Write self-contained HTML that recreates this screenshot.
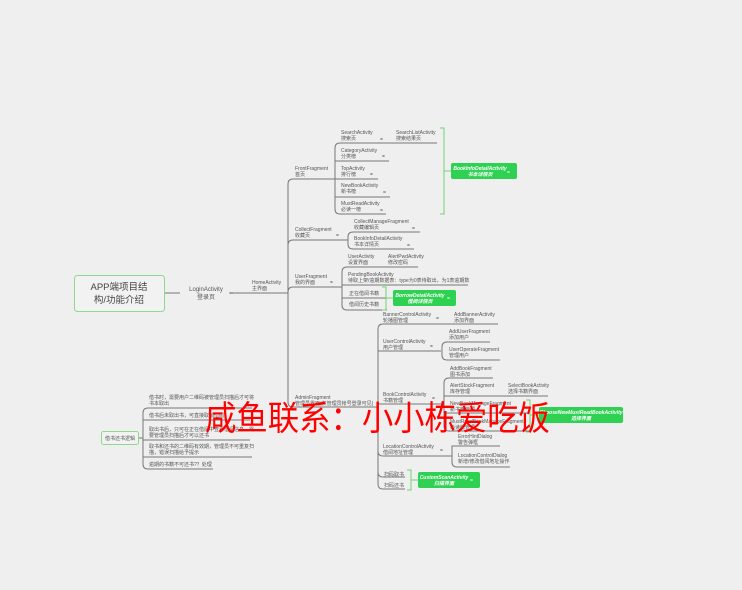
<!DOCTYPE html>
<html><head><meta charset="utf-8"><style>
html,body{margin:0;padding:0;background:#efefef;}
svg{display:block;}
text{font-family:"Liberation Sans","Noto Sans CJK SC",sans-serif;fill:#555;font-size:5px;}
.g{fill:#fff;font-weight:bold;font-style:italic;font-size:5px;}
</style></head><body>
<svg width="742" height="590" viewBox="0 0 742 590" xmlns="http://www.w3.org/2000/svg">
<rect width="742" height="590" fill="#efefef"/>
<g stroke="#777" stroke-width="1" fill="none">
<!-- root to login to home -->
<path d="M164 293 H180 M232 293 H240 M240 293 H288"/>
<!-- main spine -->
<path d="M288 293 V184 Q288 179 293 179 H335 M288 293 V245 Q288 240 293 240 H348 M288 293 V292 Q288 287 293 287 H342 M288 293 V402 Q288 407 293 407 H378"/>
<!-- front sub -->
<path d="M335 179 V148 Q335 143 340 143 H437 M335 179 V161 H389 M335 179 H378 M335 179 V197 H390 M335 179 V209 Q335 214 340 214 H386"/>
<!-- collect sub -->
<path d="M348 240 V237 Q348 232 353 232 H420 M348 240 V244 Q348 249 353 249 H414"/>
<!-- user sub -->
<path d="M342 287 V272 Q342 267 347 267 H418 M342 287 V285 H468 M342 287 V298 H387 M342 287 V305 Q342 310 347 310 H387"/>
<!-- admin sub -->
<path d="M378 407 V329 Q378 324 383 324 H498 M378 407 V351 H441 M378 407 V404 H444 M378 407 V451 Q378 456 383 456 H452 M378 407 V472 Q378 477 383 477 H405 M378 407 V484 Q378 489 383 489 H405"/>
<path d="M442 351 V347 Q442 342 447 342 H490 M442 351 V355 Q442 360 447 360 H500"/>
<path d="M444 404 V383 Q444 378 449 378 H493 M444 404 V396 H548 M444 404 V413 H530 M444 404 V426 Q444 431 449 431 H530"/>
<path d="M452 456 V446 H500 M452 456 V462 Q452 467 457 467 H510"/>
<!-- left -->
<path d="M138 438 H143 M143 438 V413 Q143 408 148 408 H252 M143 420 H250 M143 440 H250 M143 457 H252 M143 438 V464 Q143 469 148 469 H213"/>
</g>
<!-- green brackets -->
<g stroke="#6fd66f" stroke-width="1" fill="none">
<path d="M440 128 H444 V214 H440 M444 171 H451"/>
<path d="M382 287 H386 V310 H382 M386 298 H393"/>
<path d="M526 400 H530 V432 H526 M530 415 H539"/>
<path d="M407 470 H411 V490 H407 M411 480 H418"/>
</g>
<!-- root box -->
<rect x="74.5" y="275.5" width="90" height="36" rx="3" fill="#f2f2f2" stroke="#8ed98e"/>
<text x="119" y="290" text-anchor="middle" style="font-size:9.5px;fill:#444">APP端项目结</text>
<text x="119" y="303" text-anchor="middle" style="font-size:9.5px;fill:#444">构/功能介绍</text>
<text x="206" y="291" text-anchor="middle" style="font-size:6px">LoginActivity</text>
<text x="206" y="299" text-anchor="middle" style="font-size:6px">登录页</text>
<text x="229" y="295" style="font-size:6px">=</text>
<text x="252" y="284">HomeActivity</text><text x="252" y="290">主界面</text>
<!-- front -->
<text x="295" y="170">FrontFragment</text><text x="295" y="176">首页</text>
<text x="341" y="134">SearchActivity</text><text x="341" y="140">搜索页</text><text x="380" y="141">=</text>
<text x="396" y="134">SearchListActivity</text><text x="396" y="140">搜索结果页</text>
<text x="341" y="152">CategoryActivity</text><text x="341" y="158">分类榜</text><text x="382" y="158">=</text>
<text x="341" y="170">TopActivity</text><text x="341" y="176">排行榜</text><text x="370" y="176">=</text>
<text x="341" y="187">NewBookActivity</text><text x="341" y="193">新书榜</text><text x="383" y="194">=</text>
<text x="341" y="205">MustReadActivity</text><text x="341" y="211">必读一榜</text><text x="380" y="212">=</text>
<rect x="451" y="163" width="66" height="16" rx="2" fill="#2fd152"/>
<text class="g" x="480" y="170" text-anchor="middle">BookInfoDetailActivity</text>
<text class="g" x="480" y="176" text-anchor="middle">书本详情页</text>
<text x="507" y="174" style="fill:#fff">=</text>
<!-- collect -->
<text x="295" y="231">CollectFragment</text><text x="295" y="237">收藏页</text><text x="336" y="237">=</text>
<text x="354" y="223">CollectManageFragment</text><text x="354" y="229">收藏编辑页</text><text x="412" y="230">=</text>
<text x="354" y="240">BookInfoDetailActivity</text><text x="354" y="246">书本详情页</text><text x="407" y="247">=</text>
<!-- user -->
<text x="295" y="278">UserFragment</text><text x="295" y="284">我的界面</text><text x="330" y="284">=</text>
<text x="348" y="258">UserActivity</text><text x="348" y="264">设置界面</text>
<text x="388" y="258">AlertPwdActivity</text><text x="388" y="264">修改密码</text>
<text x="348" y="276">PendingBookActivity</text><text x="348" y="282">待取上架/逾期数据表：type为0表待取出，为1表逾期数</text>
<text x="349" y="295">正在借阅书籍</text>
<text x="349" y="306">借阅历史书籍</text>
<rect x="393" y="290" width="63" height="16" rx="2" fill="#2fd152"/>
<text class="g" x="420" y="297" text-anchor="middle">BorrowDetailActivity</text>
<text class="g" x="420" y="303" text-anchor="middle">借阅详情页</text>
<text x="447" y="300" style="fill:#fff">=</text>
<!-- admin -->
<text x="295" y="399">AdminFragment</text><text x="295" y="405">管理员界面(仅管理员帐号登录可见)</text>
<text x="383" y="316">BannerControlActivity</text><text x="383" y="322">轮播图管理</text><text x="436" y="320">=</text>
<text x="454" y="316">AddBannerActivity</text><text x="454" y="322">添加界面</text>
<text x="383" y="343">UserControlActivity</text><text x="383" y="349">用户管理</text><text x="430" y="348">=</text>
<text x="449" y="333">AddUserFragment</text><text x="449" y="339">添加用户</text>
<text x="449" y="351">UserOperateFragment</text><text x="449" y="357">管理用户</text>
<text x="383" y="396">BookControlActivity</text><text x="383" y="402">书籍管理</text><text x="432" y="400">=</text>
<text x="450" y="370">AddBookFragment</text><text x="450" y="376">图书添加</text>
<text x="450" y="387">AlertStockFragment</text><text x="450" y="393">库存管理</text>
<text x="508" y="387">SelectBookActivity</text><text x="508" y="393">选择书籍界面</text>
<text x="450" y="405">NewBookManageFragment</text><text x="450" y="411">新书榜管理</text>
<text x="450" y="423">MustReadBookManageFragment</text><text x="450" y="429">必读榜管理</text>
<rect x="539" y="407" width="84" height="16" rx="2" fill="#2fd152"/>
<text class="g" x="581" y="414" text-anchor="middle">ChooseNewMustReadBookActivity</text>
<text class="g" x="581" y="420" text-anchor="middle">选择界面</text>
<text x="383" y="448">LocationControlActivity</text><text x="383" y="454">借阅地址管理</text><text x="440" y="452">=</text>
<text x="458" y="438">ErrorHintDialog</text><text x="458" y="444">警告弹框</text>
<text x="458" y="457">LocationControlDialog</text><text x="458" y="463">新增/修改借阅地址操作</text>
<text x="384" y="476">扫码取书</text>
<text x="384" y="487">扫码还书</text>
<rect x="418" y="472" width="62" height="16" rx="2" fill="#2fd152"/>
<text class="g" x="444" y="479" text-anchor="middle">CustomScanActivity</text>
<text class="g" x="444" y="485" text-anchor="middle">扫描界面</text>
<text x="470" y="482" style="fill:#fff">=</text>
<!-- left -->
<rect x="101.5" y="431.5" width="37" height="13" rx="2" fill="#f2f2f2" stroke="#8ed98e"/>
<text x="120" y="440" text-anchor="middle">借书还书逻辑</text>
<text x="149" y="399">借书时，需要用户二维码被管理员扫描后才可将</text><text x="149" y="405">书本取出</text>
<text x="149" y="417">借书后未取出书，可直接取消借阅</text>
<text x="149" y="431">取出书后，只可在正在借阅中查看借阅信息，需</text><text x="149" y="437">要管理员扫描后才可以还书</text>
<text x="149" y="448">取书和还书的二维码有效期，管理员不可重复扫</text><text x="149" y="454">描，错误扫描给予提示</text>
<text x="149" y="466">逾期的书籍不可还书?？处理</text>
<!-- watermark -->
<text x="205" y="430" textLength="345" lengthAdjust="spacingAndGlyphs" style="font-size:34px;fill:#ff0000;font-family:'Noto Sans CJK SC',sans-serif">咸鱼联系：小小栋爱吃饭</text>
</svg>
</body></html>
